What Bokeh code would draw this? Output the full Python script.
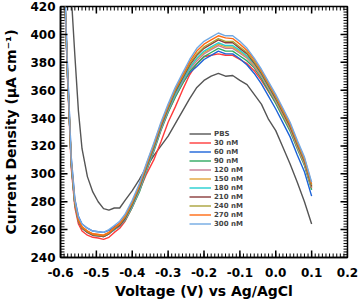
from bokeh.plotting import figure
from bokeh.models import Range1d, FixedTicker, CustomJSTickFormatter
from bokeh.embed import file_html
from bokeh.resources import INLINE

voltage = [-0.600, -0.590, -0.580, -0.570, -0.560, -0.550, -0.540, -0.525, -0.510, -0.495,
           -0.480, -0.465, -0.450, -0.435, -0.420, -0.400, -0.380, -0.360, -0.340, -0.320,
           -0.300, -0.280, -0.260, -0.240, -0.220, -0.200, -0.180, -0.160, -0.140, -0.120,
           -0.100, -0.080, -0.060, -0.040, -0.020, 0.000, 0.020, 0.040, 0.060, 0.080, 0.100]

pbs = [600, 520, 468, 428, 385, 345, 318, 298, 287, 280,
       275, 274, 275.5, 275.5, 281, 288, 296, 305, 313, 320,
       327, 336, 345, 354, 362, 367, 370, 372, 370, 370.5,
       367, 364, 357, 350, 339, 331, 319, 307, 294, 280, 264]
nm30 = [516, 440, 366, 304, 276, 264, 259, 256, 254.5, 254,
        253, 254.5, 258, 261, 266, 276, 288, 300, 310, 323,
        337, 348, 360, 371, 379, 384, 385, 386, 385, 385,
        382, 379, 374, 367, 359, 351, 342, 332, 319, 307, 289.5]
nm60 = [522, 447, 374, 312, 282, 269.5, 264, 261, 259, 258.5,
        258, 259.5, 262, 264.5, 268.5, 277.5, 289, 303, 317, 332,
        344.5, 355.5, 365, 372.5, 377, 382, 385, 388, 386, 386,
        382.5, 378, 372, 364.5, 355.5, 346.5, 336.5, 326.5, 313.5, 301.5, 284]
nm90 = [517, 442, 369, 307.5, 278.5, 266.5, 261.5, 258.5, 256.5, 256,
        255.5, 257.5, 260, 262.5, 266.5, 276, 287, 302, 316, 331,
        344, 355, 364.5, 373.5, 379, 384, 387, 390, 388, 388,
        384.5, 381, 376, 368.5, 359.5, 350.5, 340.5, 330.5, 318, 306, 288.5]
nm120 = [516, 441, 368, 307, 278, 266, 261, 258, 256, 255.5,
         255, 257, 260, 262.5, 267, 276.5, 288, 303, 317, 332,
         345, 356.5, 366, 375, 381, 386, 389, 392, 390, 390,
         386.5, 383, 377, 370, 361, 352, 342, 332, 319, 307, 290]
nm150 = [517, 442, 369, 308, 279, 267, 262, 259, 257, 256.5,
         256, 258, 261, 264, 268.5, 278, 290, 305, 319, 334,
         347, 358, 367.5, 376.5, 382.5, 387, 390, 393, 391, 391,
         387.5, 384, 378, 371, 362, 353, 343, 333, 320, 308, 290.5]
nm180 = [516, 441, 368, 307, 278, 266, 261, 258, 256, 255.5,
         255, 257, 260, 263, 267.5, 277, 289, 304, 318, 333,
         346, 357.5, 367, 376, 383, 388, 391, 394, 392, 392,
         388.5, 384.5, 379, 371.5, 362.5, 353.5, 344, 334, 321, 309, 291.5]
nm210 = [516, 441, 368, 307, 278.5, 266, 261, 258, 256, 255.5,
         255, 257, 260.5, 263, 268, 278, 290, 305, 319, 334,
         347, 359, 368.5, 378, 385, 390, 393, 396, 394, 394,
         390, 386, 379.5, 372, 363, 354, 344, 334, 321, 309, 291]
nm240 = [517, 442, 369, 308, 279, 266.5, 261.5, 258.5, 256.5, 256,
         255.5, 257.5, 261, 264, 269, 279, 291, 306, 320, 335,
         348, 360, 369.5, 379, 386, 391, 394, 397, 395, 395,
         391, 387, 380.5, 373, 364, 355, 345, 335, 322, 310, 292]
nm270 = [518, 443, 370, 309, 280, 267, 262, 259, 257, 256.5,
         256, 258, 261.5, 264.5, 270, 280, 292, 307, 321, 336,
         349, 361, 370.5, 380.5, 388, 393, 396, 399, 397.5, 397,
         393, 388.5, 382, 374, 365, 356, 346, 336, 323, 311, 293]
nm300 = [520, 445, 372, 310, 281, 269, 264, 261, 259, 258.5,
         258, 260, 263, 266, 271, 281, 293, 308, 322, 337,
         350, 362, 372, 382, 390, 395, 398, 401, 399, 399,
         395, 390, 383, 375, 366, 357, 347, 337, 324, 312, 294]

series_names = ["PBS", "30 nM", "60 nM", "90 nM", "120 nM", "150 nM",
                "180 nM", "210 nM", "240 nM", "270 nM", "300 nM"]
series_values = [pbs, nm30, nm60, nm90, nm120, nm150, nm180, nm210, nm240, nm270, nm300]
series_colors = ["#555555", "#ff3b3b", "#1c63d8", "#2ea860", "#c77a94", "#e3a43a",
                 "#25cfd0", "#8a3b3b", "#a9a33a", "#ff6a12", "#72a9e3"]

x_ticks = [-0.6, -0.5, -0.4, -0.3, -0.2, -0.1, 0.0, 0.1, 0.2]
y_ticks = [240, 260, 280, 300, 320, 340, 360, 380, 400, 420]

X0, X1, Y0, Y1 = -0.6, 0.2, 240, 420
W, H = 358, 302
BL, BR, BT, BB = 60, 11, 6, 45
FONT = "DejaVu Sans"

p = figure(width=W, height=H, output_backend="svg", toolbar_location=None,
           x_range=Range1d(X0, X1), y_range=Range1d(Y0, Y1),
           min_border_left=BL, min_border_right=BR, min_border_top=BT, min_border_bottom=BB)
p.grid.visible = False
p.outline_line_color = "black"
p.outline_line_width = 1.5
p.background_fill_color = "white"

for name, vals, col in zip(series_names, series_values, series_colors):
    p.line(voltage, vals, line_color=col, line_width=1.4, legend_label=name, line_join="round")

# inward tick marks on all four sides (tick length given in pixels, converted to data units)
dx = (X1 - X0) / (W - BL - BR)
dy = (Y1 - Y0) / (H - BT - BB)
x_minor = [round(X0 + i * 0.01, 3) for i in range(81)]
y_minor = [Y0 + i * 2 for i in range(91)]
for xs, L, w in ((x_minor, 4, 1.0), (x_ticks, 7, 1.5)):
    n = len(xs)
    p.segment(x0=xs, y0=[Y0] * n, x1=xs, y1=[Y0 + L * dy] * n, line_color="black", line_width=w)
    p.segment(x0=xs, y0=[Y1] * n, x1=xs, y1=[Y1 - L * dy] * n, line_color="black", line_width=w)
for ys, L, w in ((y_minor, 4, 1.0), (y_ticks, 7, 1.5)):
    n = len(ys)
    p.segment(x0=[X0] * n, y0=ys, x1=[X0 + L * dx] * n, y1=ys, line_color="black", line_width=w)
    p.segment(x0=[X1] * n, y0=ys, x1=[X1 - L * dx] * n, y1=ys, line_color="black", line_width=w)


def style_axis(ax):
    ax.major_tick_in = 0
    ax.major_tick_out = 0
    ax.minor_tick_in = 0
    ax.minor_tick_out = 0
    ax.axis_line_width = 1.5
    ax.axis_line_color = "black"
    ax.major_label_text_font = FONT
    ax.major_label_text_font_style = "bold"
    ax.major_label_text_font_size = "12px"
    ax.major_label_text_color = "black"
    ax.axis_label_text_font = FONT
    ax.axis_label_text_font_style = "bold"
    ax.axis_label_text_font_size = "14px"
    ax.axis_label_text_color = "black"


xa = p.xaxis[0]
xa.ticker = FixedTicker(ticks=x_ticks)
xa.formatter = CustomJSTickFormatter(code="return tick.toFixed(1);")
xa.axis_label = "Voltage (V) vs Ag/AgCl"
style_axis(xa)
xa.major_label_standoff = 10
xa.axis_label_standoff = 3

ya = p.yaxis[0]
ya.ticker = FixedTicker(ticks=y_ticks)
ya.axis_label = "Current Density (\u03bcA cm\u207b\u00b9)"
style_axis(ya)
ya.major_label_standoff = 5
ya.axis_label_standoff = 8

lg = p.legend[0]
lg.location = (129, 29)
lg.border_line_alpha = 0
lg.background_fill_alpha = 0
lg.padding = 0
lg.margin = 0
lg.spacing = 0
lg.glyph_width = 22
lg.glyph_height = 9
lg.label_height = 9
lg.label_standoff = 3
lg.label_text_font = FONT
lg.label_text_font_style = "bold"
lg.label_text_font_size = "7px"
lg.label_text_line_height = 1.0

open("out.html", "w").write(file_html(p, INLINE))
